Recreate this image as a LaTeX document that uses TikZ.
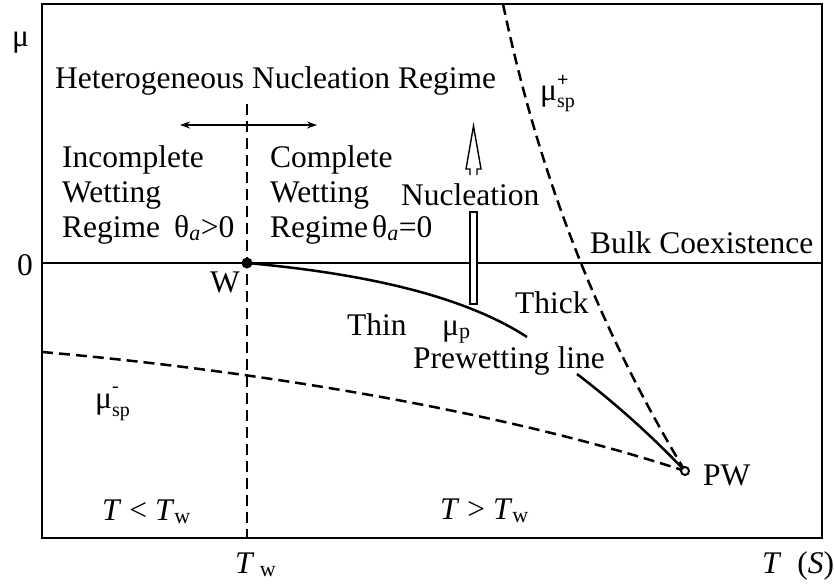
\documentclass[tikz,border=0pt]{standalone}
\usepackage{fontspec}
\setmainfont{Liberation Serif}
\usetikzlibrary{arrows.meta}
\begin{document}
\begin{tikzpicture}[x=1pt,y=-1pt,
  font=\fontsize{31.5}{35}\selectfont,
  lbl/.style={anchor=base west, inner sep=0pt},
  small/.style={anchor=base west, inner sep=0pt, font=\fontsize{20}{22}\selectfont},
  dashcurve/.style={line width=2.5pt, dash pattern=on 11pt off 6pt},
  solidcurve/.style={line width=2.5pt},
  hollow/.style={line width=1.4pt}]
\useasboundingbox (0,0) rectangle (834,586);
% frame
\draw[line width=2pt] (42,4) rectangle (822,538);
\coordinate (W) at (247,263);
\coordinate (PW) at (685,471);
\coordinate (L0) at (42,263);
\coordinate (R0) at (822,263);
% bulk coexistence
\draw[line width=1.1pt] (L0) -- (R0);
\draw[line width=2.6pt] (L0) -- (W);
% prewetting line
\draw[solidcurve] (W) .. controls (380,275) and (470,300) .. (527,337);
\draw[solidcurve] (577,374) .. controls (615,403) and (653,437) .. (PW);
% spinodals
\draw[dashcurve] (503,4) .. controls (540,180) and (600,330) .. (PW);
\draw[dashcurve] (42,352) .. controls (250,370) and (500,410) .. (PW);
% wetting temperature
\coordinate (Wtop) at (247,104);
\coordinate (Wbot) at (247,538);
\draw[dashcurve] (Wtop) -- (Wbot);
% double arrow
\coordinate (HA) at (180,125);
\coordinate (HB) at (317,125);
\draw[line width=1.4pt, {Stealth[length=10pt,width=7pt]}-{Stealth[length=10pt,width=7pt]}] (HA) -- (HB);
% points
\fill (W) circle (5.5pt);
\draw[line width=2pt, fill=white] (PW) circle (4pt);
% nucleation hollow arrow
\draw[hollow] (470,175) -- (470,169) -- (466,169) -- (473.5,126) -- (481,169) -- (477,169) -- (477,175);
\draw[hollow, fill=white] (470,212) rectangle (477,304);
% labels
\node[lbl] (mu) at (12,47) {μ};
\node[lbl] (zero) at (17,275) {0};
\node[lbl] (het) at (55,88) {Heterogeneous Nucleation Regime};
\node[lbl] (inc1) at (62,167) {Incomplete};
\node[lbl] (inc2) at (62,202) {Wetting};
\node[lbl] (inc3) at (62,237) {Regime};
\node[lbl] (th1) at (174,237) {θ\textsubscript{\itshape a}>0};
\node[lbl] (com1) at (270,167) {Complete};
\node[lbl] (com2) at (270,202) {Wetting};
\node[lbl] (com3) at (270,237) {Regime};
\node[lbl] (th2) at (372,237) {θ\textsubscript{\itshape a}=0};
\node[lbl] (nuc) at (401,205) {Nucleation};
\node[lbl] (bulk) at (590,253) {Bulk Coexistence};
% mu_sp^+
\node[lbl] (mspmu) at (540,100) {μ};
\node[small] (mspsup) at (557,86) {\textbf{+}};
\node[small] (mspsub) at (557,107) {sp};
\node[lbl] (wl) at (210,292) {W};
\node[lbl] (thin) at (347,335) {Thin};
\node[lbl] (thick) at (515,313) {Thick};
\node[lbl] (mup) at (442,335) {μ\textsubscript{p}};
\node[lbl] (prew) at (413,368) {Prewetting line};
% mu_sp^-
\node[lbl] (msmmu) at (95,408) {μ};
\node[small] (msmsup) at (112,392) {-};
\node[small] (msmsub) at (112,416) {sp};
\node[lbl] (tlt) at (102,520) {\textit{T} < \textit{T}\textsubscript{w}};
\node[lbl] (tgt) at (440,519) {\textit{T} > \textit{T}\textsubscript{w}};
\node[lbl] (pwl) at (703,485) {PW};
\node[lbl] (tw) at (235,573) {\textit{T}\,\textsubscript{w}};
\node[lbl] (ts) at (762,573) {\textit{T}\enspace(\textit{S})};
\end{tikzpicture}
\end{document}
